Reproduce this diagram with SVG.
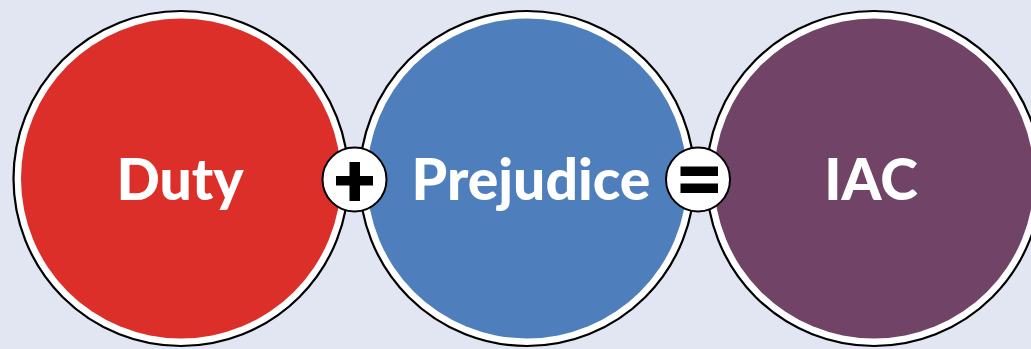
<svg xmlns="http://www.w3.org/2000/svg" width="1031" height="349" viewBox="0 0 1031 349">
<style>
.ring{fill:#ffffff;stroke:#000;stroke-width:2.2}
.lbl{font-family:Lato,"Open Sans","Liberation Sans",sans-serif;font-weight:900;font-size:57px;fill:#ffffff;text-anchor:middle}
.op{fill:#ffffff;stroke:#000;stroke-width:2}
.bar{fill:#000}
</style>
<rect width="1031" height="349" fill="#e2e6f3"/>
<g id="duty">
<circle class="ring" cx="181" cy="178.5" r="167.5"/>
<circle cx="181" cy="178.5" r="160" fill="#dc2f2a"/>
<text class="lbl" x="180" y="200">Duty</text>
</g>
<g id="prejudice">
<circle class="ring" cx="527" cy="178.5" r="167.5"/>
<circle cx="527" cy="178.5" r="160" fill="#4e7fbc"/>
<text class="lbl" x="531" y="200">Prejudice</text>
</g>
<g id="iac">
<circle class="ring" cx="874" cy="178.5" r="167.5"/>
<circle cx="874" cy="178.5" r="160" fill="#714366"/>
<text class="lbl" x="871" y="200">IAC</text>
</g>
<g id="connectors">
<g id="plus">
<circle class="op" cx="354.5" cy="179.5" r="32"/>
<rect class="bar" x="336" y="176" width="37" height="9.5"/>
<rect class="bar" x="349.5" y="162" width="10.5" height="39"/>
</g>
<g id="equals">
<circle class="op" cx="698" cy="179.5" r="32"/>
<rect class="bar" x="680.5" y="166.5" width="37.5" height="9.5"/>
<rect class="bar" x="680.5" y="183.5" width="37.5" height="9.5"/>
</g>
</g>
</svg>
